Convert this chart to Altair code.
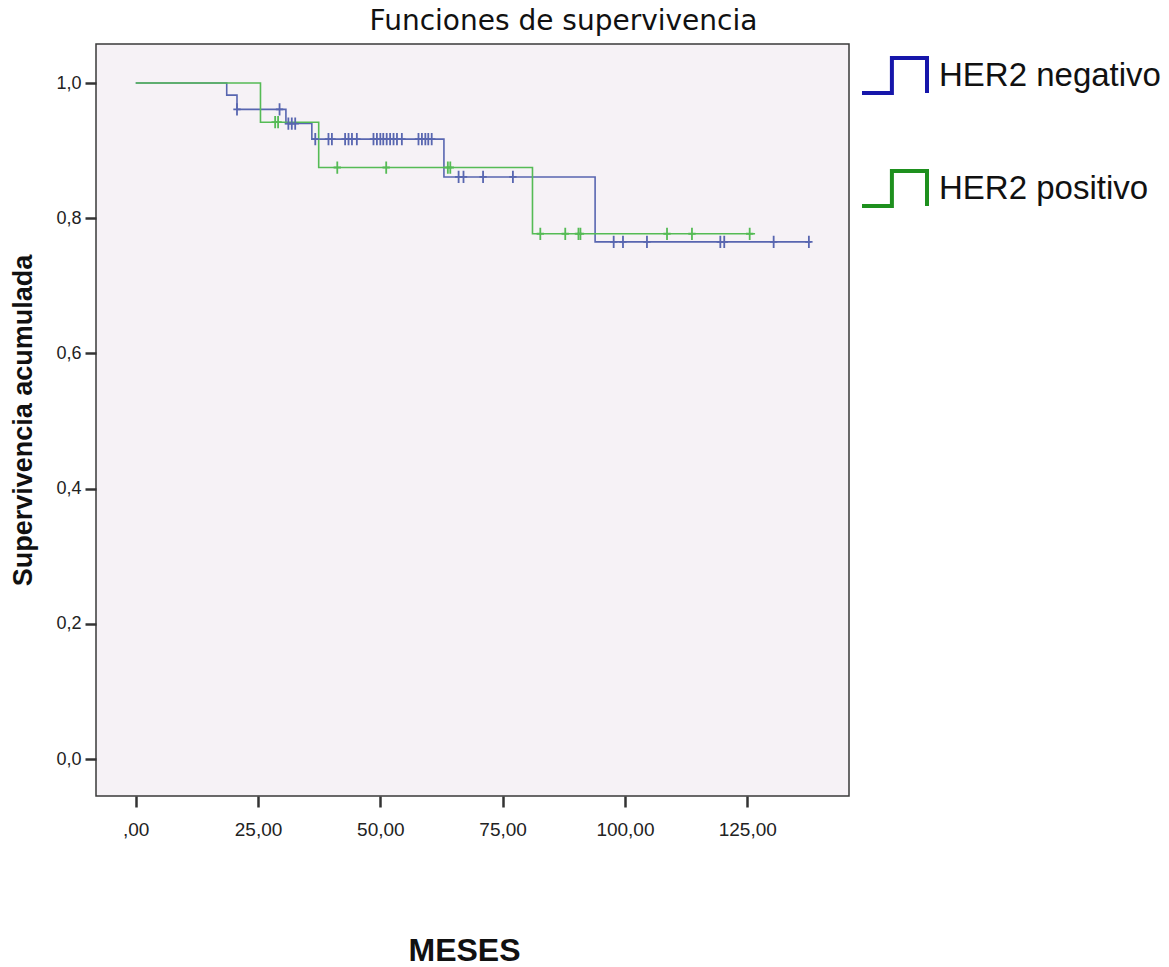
import altair as alt
import pandas as pd

grupos = ["HER2 negativo", "HER2 positivo"]

# Kaplan-Meier steps: time in months and cumulative survival from that time on
neg_tiempos = [0.0, 18.6, 20.7, 30.7, 36.0, 63.0, 93.9, 138.0]
neg_superv = [1.0, 0.982, 0.961, 0.940, 0.917, 0.861, 0.765, 0.765]
pos_tiempos = [0.0, 25.5, 37.4, 81.1, 126.6]
pos_superv = [1.0, 0.942, 0.875, 0.777, 0.777]

# censored observations (months)
neg_censura = [20.7, 29.4, 31.2, 31.9, 32.6,
               36.7, 39.4, 40.1, 42.8, 43.5, 44.2, 45.2,
               48.6, 49.3, 50.0, 50.6, 51.3, 52.0, 52.7, 53.4, 54.4,
               57.8, 58.5, 59.2, 59.8, 60.5,
               66.0, 67.0, 71.0, 77.1,
               97.7, 99.6, 104.5, 119.5, 120.3, 130.4, 137.6]
pos_censura = [28.5, 29.1, 41.2, 51.2, 63.8, 64.3,
               82.7, 87.8, 90.5, 90.9, 108.6, 113.7, 125.5]

x_ticks = [0, 25, 50, 75, 100, 125]
x_labels = [",00", "25,00", "50,00", "75,00", "100,00", "125,00"]
y_ticks = [0.0, 0.2, 0.4, 0.6, 0.8, 1.0]
y_labels = ["0,0", "0,2", "0,4", "0,6", "0,8", "1,0"]

line_colors = ["#5866b0", "#55bb55"]
legend_colors = ["#1616aa", "#1e901e"]


def nivel(tiempos, superv, t):
    s = superv[0]
    for ti, si in zip(tiempos, superv):
        if ti <= t:
            s = si
    return s


def label_expr(values, labels):
    expr = "''"
    for v, lab in reversed(list(zip(values, labels))):
        expr = f"abs(datum.value - {v}) < 1e-6 ? '{lab}' : ({expr})"
    return expr


curvas = pd.DataFrame(
    [{"grupo": grupos[0], "meses": t, "superv": s} for t, s in zip(neg_tiempos, neg_superv)]
    + [{"grupo": grupos[1], "meses": t, "superv": s} for t, s in zip(pos_tiempos, pos_superv)]
)
censuras = pd.DataFrame(
    [{"grupo": grupos[0], "meses": t, "superv": nivel(neg_tiempos, neg_superv, t)} for t in neg_censura]
    + [{"grupo": grupos[1], "meses": t, "superv": nivel(pos_tiempos, pos_superv, t)} for t in pos_censura]
)
# one point per series: draws nothing, only feeds the legend
leyenda = pd.DataFrame({"serie": grupos, "meses": [0.0, 0.0], "superv": [1.0, 1.0]})

x_enc = alt.X(
    "meses:Q",
    scale=alt.Scale(domain=[-8.12, 145.8], nice=False, zero=False),
    axis=alt.Axis(
        values=x_ticks,
        labelExpr=label_expr(x_ticks, x_labels),
        labelPadding=13,
        labelFontSize=19,
        title="MESES",
        titleFont="Liberation Sans",
        titleFontSize=32,
        titleFontWeight="bold",
        titleColor="#111111",
        titleX=368,
        titleY=164,
        titleBaseline="alphabetic",
        titleAlign="center",
    ),
)
y_enc = alt.Y(
    "superv:Q",
    scale=alt.Scale(domain=[-0.0547, 1.0577], nice=False, zero=False),
    axis=alt.Axis(
        values=y_ticks,
        labelExpr=label_expr(y_ticks, y_labels),
        labelPadding=4,
        labelFontSize=18,
        title="Supervivencia acumulada",
        titleFont="Liberation Sans",
        titleFontSize=27,
        titleFontWeight="bold",
        titleColor="#111111",
        titleX=-65,
        titleY=376,
        titleBaseline="alphabetic",
        titleAlign="center",
        titleAngle=270,
    ),
)

# line colours follow the sorted group names
stroke_scale = alt.Scale(range=line_colors)

lineas = alt.Chart(curvas).mark_line(interpolate="step-after", strokeWidth=1.6).encode(
    x=x_enc,
    y=y_enc,
    stroke=alt.Stroke("grupo:N", scale=stroke_scale, legend=None),
)

cruces = alt.Chart(censuras).mark_point(
    shape="M0,-1V1M-0.6,0H0.6", size=150, strokeWidth=1.8, filled=False, opacity=1
).encode(
    x="meses:Q",
    y="superv:Q",
    stroke=alt.Stroke("grupo:N", scale=stroke_scale, legend=None),
)

simbolos = alt.Chart(leyenda).mark_line(strokeWidth=4).encode(
    x="meses:Q",
    y="superv:Q",
    color=alt.Color(
        "serie:N",
        scale=alt.Scale(domain=grupos, range=legend_colors),
        legend=alt.Legend(
            title=None,
            orient="none",
            legendX=764,
            legendY=-3,
            symbolType="M-1,0.54H-0.08V-0.54H1V0.54",
            symbolSize=4225,
            symbolStrokeWidth=4,
            symbolFillColor="transparent",
            labelFont="Liberation Sans",
            labelFontSize=33,
            labelColor="#111111",
            labelOffset=10,
            labelLimit=0,
            rowPadding=52,
            padding=0,
        ),
    ),
)

chart = (
    alt.layer(lineas, cruces, simbolos)
    .properties(
        width=753,
        height=752,
        autosize=alt.AutoSizeParams(type="none"),
        padding={"left": 96, "top": 44, "right": 320, "bottom": 171},
        title=alt.TitleParams(
            "Funciones de supervivencia",
            font="DejaVu Sans",
            fontSize=28,
            fontWeight="normal",
            color="#111111",
            anchor="middle",
            dx=91,
            dy=33,
            baseline="alphabetic",
            offset=16,
        ),
        background="white",
    )
    .configure_view(fill="#f6f2f6", stroke="#3a3a3a", strokeWidth=1.5)
    .configure_axis(
        domain=False,
        grid=False,
        ticks=True,
        tickSize=11,
        tickWidth=2.5,
        tickColor="#333333",
        labelFont="Liberation Sans",
        labelColor="#222222",
    )
)

chart.save("out.html", embed_options={"renderer": "svg", "actions": False})
